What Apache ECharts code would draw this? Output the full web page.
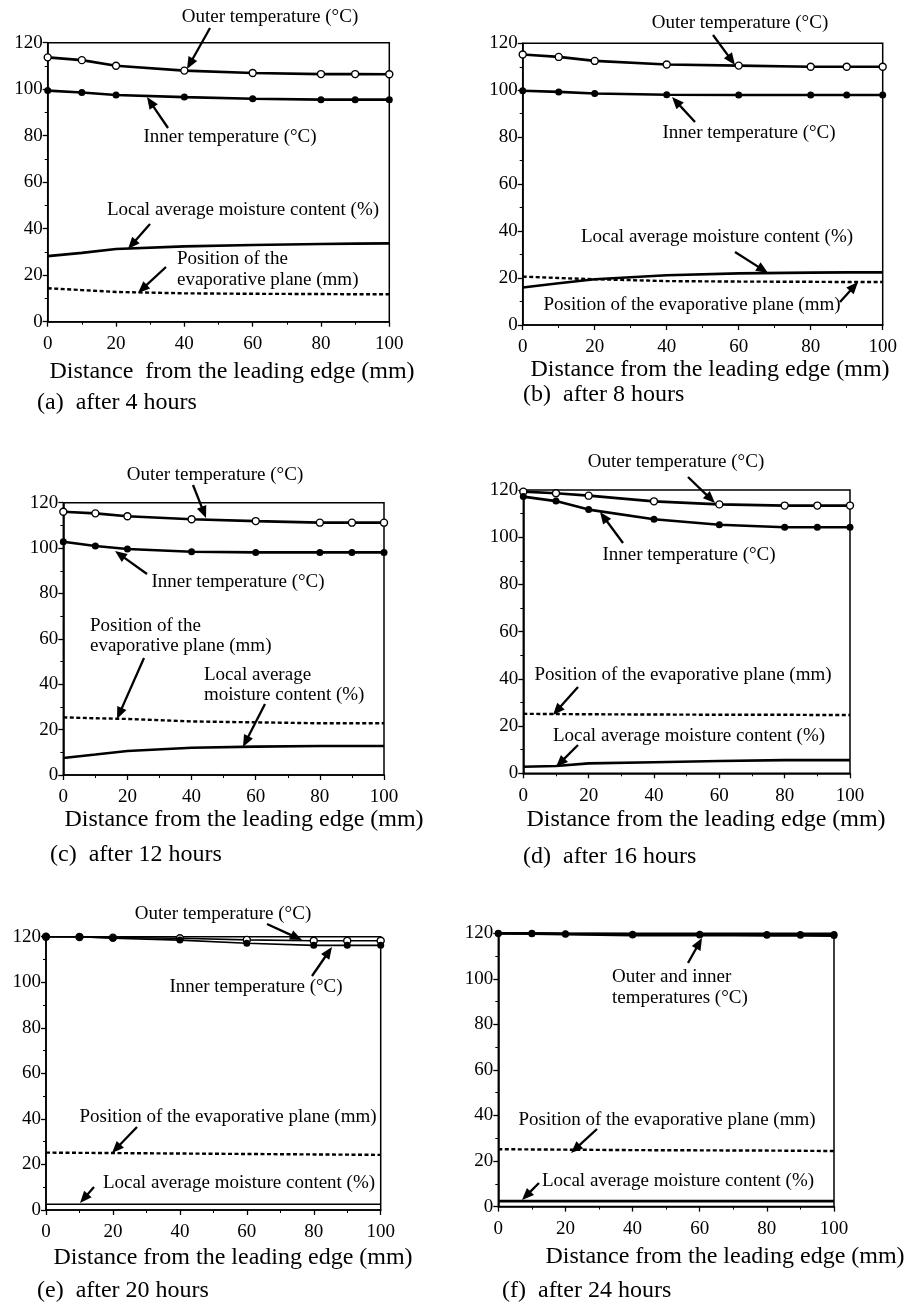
<!DOCTYPE html>
<html>
<head>
<meta charset="utf-8">
<script src="https://cdn.jsdelivr.net/npm/echarts@6/dist/echarts.min.js"></script>
<style>
html,body{margin:0;padding:0;background:#fff;}
#chart{width:909px;height:1304px;}
</style>
</head>
<body>
<div id="chart"></div>
<script>
// ---- data ----
const distances = [0, 10, 20, 40, 60, 80, 90, 100];   // mm from leading edge
const xTickLabels = [0, 20, 40, 60, 80, 100];
const yTickLabels = [0, 20, 40, 60, 80, 100, 120];

// (a) after 4 hours
const outerA = [113.7, 112.5, 110.1, 108.0, 107.0, 106.5, 106.5, 106.4];
const innerA = [99.4, 98.6, 97.5, 96.6, 95.9, 95.5, 95.5, 95.5];
const moistA = [28.2, 29.6, 31.3, 32.4, 33.0, 33.4, 33.6, 33.7];
const evapA  = [14.4, 13.6, 12.8, 12.2, 12.0, 11.9, 11.8, 11.8];
// (b) after 8 hours
const outerB = [115.2, 114.2, 112.5, 111.0, 110.5, 110.0, 110.0, 110.0];
const innerB = [99.8, 99.3, 98.6, 98.1, 98.0, 98.0, 98.0, 98.0];
const moistB = [16.0, 17.8, 19.5, 21.2, 22.0, 22.3, 22.4, 22.4];
const evapB  = [20.6, 20.0, 19.5, 18.7, 18.5, 18.4, 18.3, 18.3];
// (c) after 12 hours
const outerC = [116.0, 115.3, 114.0, 112.7, 111.9, 111.2, 111.2, 111.2];
const innerC = [102.8, 100.9, 99.6, 98.4, 98.1, 98.1, 98.1, 98.1];
const moistC = [7.5, 9.0, 10.6, 12.0, 12.5, 12.8, 12.8, 12.8];
const evapC  = [25.4, 25.0, 24.7, 23.6, 23.2, 22.8, 22.8, 22.8];
// (d) after 16 hours
const outerD = [119.3, 118.6, 117.6, 115.2, 113.9, 113.4, 113.4, 113.4];
const innerD = [117.2, 115.3, 111.7, 107.6, 105.3, 104.2, 104.2, 104.2];
const moistD = [2.8, 3.1, 4.2, 4.7, 5.2, 5.6, 5.6, 5.6];
const evapD  = [25.2, 25.1, 25.0, 24.9, 24.8, 24.8, 24.7, 24.7];
// (e) after 20 hours
const outerE = [120.0, 119.9, 119.6, 119.3, 118.6, 118.2, 118.2, 118.2];
const innerE = [120.0, 120.0, 119.3, 118.5, 117.1, 116.2, 116.2, 116.2];
const moistE = [2.5, 2.5, 2.5, 2.5, 2.5, 2.5, 2.5, 2.5];
const evapE  = [25.2, 25.1, 25.0, 24.8, 24.6, 24.4, 24.3, 24.2];
// (f) after 24 hours
const outerF = [120.0, 120.0, 119.8, 119.6, 119.6, 119.5, 119.5, 119.5];
const innerF = [119.9, 119.8, 119.6, 119.2, 119.3, 119.1, 119.1, 119.0];
const moistF = [2.4, 2.4, 2.4, 2.4, 2.4, 2.4, 2.4, 2.4];
const evapF  = [25.2, 25.1, 25.0, 24.8, 24.7, 24.6, 24.5, 24.4];

const captions = ['(a)  after 4 hours', '(b)  after 8 hours', '(c)  after 12 hours',
                  '(d)  after 16 hours', '(e)  after 20 hours', '(f)  after 24 hours'];
const xTitles = ['Distance  from the leading edge (mm)', 'Distance from the leading edge (mm)',
                 'Distance from the leading edge (mm)', 'Distance from the leading edge (mm)',
                 'Distance from the leading edge (mm)', 'Distance from the leading edge (mm)'];

// ---- layout ----
const FONT = '"Liberation Serif", "Times New Roman", serif';
const panels = [
  {grid:{left:47.7, top:42.7, width:341.6, height:279}, data:[outerA, innerA, moistA, evapA], thin:false,
   title:[232, 372], cap:[37, 403],
   texts:[['Outer temperature (°C)',270,17,'center'],['Inner temperature (°C)',230,137,'center'],
          ['Local average moisture content (%)',243,210,'center'],['Position of the',177,259,'left'],
          ['evaporative plane (mm)',177,280,'left']],
   arrows:[[210,28,187,69],[168,128,147,97],[150,224,128,249],[166,267,138,293]]},
  {grid:{left:522.7, top:43.3, width:360, height:281.7}, data:[outerB, innerB, moistB, evapB], thin:false,
   title:[710, 370], cap:[523, 395],
   texts:[['Outer temperature (°C)',740,23,'center'],['Inner temperature (°C)',749,133,'center'],
          ['Local average moisture content (%)',717,237,'center'],
          ['Position of the evaporative plane (mm)',692,305,'center']],
   arrows:[[713,35,735,65],[695,122,672,97],[735,252,768,273],[840,302,858,282]]},
  {grid:{left:63.3, top:502.7, width:320.7, height:272.3}, data:[outerC, innerC, moistC, evapC], thin:false,
   title:[244, 820], cap:[50, 855],
   texts:[['Outer temperature (°C)',215,475,'center'],['Inner temperature (°C)',238,582,'center'],
          ['Position of the',90,626,'left'],['evaporative plane (mm)',90,646,'left'],
          ['Local average',204,675,'left'],['moisture content (%)',204,695,'left']],
   arrows:[[193,485,206,518],[147,574,115,551],[144,658,117,719],[265,704,243,747]]},
  {grid:{left:523.3, top:490, width:326.7, height:283.3}, data:[outerD, innerD, moistD, evapD], thin:false,
   title:[706, 820], cap:[523, 857],
   texts:[['Outer temperature (°C)',676,462,'center'],['Inner temperature (°C)',689,555,'center'],
          ['Position of the evaporative plane (mm)',683,675,'center'],
          ['Local average moisture content (%)',689,736,'center']],
   arrows:[[688,477,715,503],[623,543,600,512],[578,687,553,715],[578,745,556,767]]},
  {grid:{left:46, top:936.7, width:334.7, height:273.3}, data:[outerE, innerE, moistE, evapE], thin:true,
   title:[233, 1258], cap:[37, 1291],
   texts:[['Outer temperature (°C)',223,914,'center'],['Inner temperature (°C)',256,987,'center'],
          ['Position of the evaporative plane (mm)',228,1117,'center'],
          ['Local average moisture content (%)',239,1183,'center']],
   arrows:[[267,924,302,940],[312,976,332,947],[137,1127,112,1153],[94,1187,80,1203]]},
  {grid:{left:498.3, top:933.3, width:335.7, height:273.3}, data:[outerF, innerF, moistF, evapF], thin:false,
   title:[725, 1257], cap:[502, 1291], filledOuter:true,
   texts:[['Outer and inner',612,977,'left'],['temperatures (°C)',612,998,'left'],
          ['Position of the evaporative plane (mm)',667,1120,'center'],
          ['Local average moisture content (%)',678,1181,'center']],
   arrows:[[688,963,702,938],[597,1129,571,1153],[539,1183,522,1200]]}
];

const grids = [], xAxes = [], yAxes = [], series = [], graphics = [];

function arrow(x1, y1, x2, y2) {
  const dx = x2 - x1, dy = y2 - y1, L = Math.hypot(dx, dy);
  const ux = dx / L, uy = dy / L, head = 12, hw = 5;
  const bx = x2 - ux * head, by = y2 - uy * head;
  return [
    {type:'line', shape:{x1:x1, y1:y1, x2:bx + ux * 2, y2:by + uy * 2}, style:{stroke:'#000', lineWidth:2.3}, silent:true},
    {type:'polygon', shape:{points:[[x2, y2], [bx - uy * hw, by + ux * hw], [bx + uy * hw, by - ux * hw]]},
     style:{fill:'#000'}, silent:true}
  ];
}

panels.forEach((p, i) => {
  grids.push(Object.assign({show:true, borderColor:'#000', borderWidth:1.5, backgroundColor:'transparent'}, p.grid));
  const common = {
    type:'value', gridIndex:i,
    axisLine:{show:true, onZero:false, lineStyle:{color:'#000', width:1.6}},
    axisTick:{show:true, length:5, lineStyle:{color:'#000', width:1.3}},
    minorTick:{show:true, splitNumber:2, length:3, lineStyle:{color:'#000', width:1}},
    splitLine:{show:false}
  };
  xAxes.push(Object.assign({}, common, {
    min:xTickLabels[0], max:xTickLabels[xTickLabels.length - 1], interval:xTickLabels[1] - xTickLabels[0],
    axisLabel:{color:'#000', fontFamily:FONT, fontSize:19, margin:13}
  }));
  yAxes.push(Object.assign({}, common, {
    min:yTickLabels[0], max:yTickLabels[yTickLabels.length - 1], interval:yTickLabels[1] - yTickLabels[0],
    axisLabel:{color:'#000', fontFamily:FONT, fontSize:19, margin:5}
  }));
  const lw = p.thin ? 1.6 : 2.6;
  const pts = arr => distances.map((d, j) => [d, arr[j]]);
  const base = {type:'line', xAxisIndex:i, yAxisIndex:i, clip:false, animation:false, silent:true};
  series.push(Object.assign({}, base, {
    name:'Outer temperature', data:pts(p.data[0]), symbol:'circle', symbolSize:7,
    itemStyle: p.filledOuter ? {color:'#000'} : {color:'#fff', borderColor:'#000', borderWidth:1.4},
    lineStyle:{color:'#000', width:lw}, z:3
  }));
  series.push(Object.assign({}, base, {
    name:'Inner temperature', data:pts(p.data[1]), symbol:'circle', symbolSize:7,
    itemStyle:{color:'#000'}, lineStyle:{color:'#000', width:lw}, z:4
  }));
  series.push(Object.assign({}, base, {
    name:'Local average moisture content', data:pts(p.data[2]), showSymbol:false, symbol:'none',
    lineStyle:{color:'#000', width:lw}
  }));
  series.push(Object.assign({}, base, {
    name:'Position of the evaporative plane', data:pts(p.data[3]), showSymbol:false, symbol:'none',
    lineStyle:{color:'#000', width:2.4, type:[4, 2.5]}
  }));
  // annotations
  p.texts.forEach(t => graphics.push({type:'text', x:t[1], y:t[2], silent:true,
    style:{text:t[0], font:'19px ' + FONT, fill:'#000', align:t[3], verticalAlign:'middle'}}));
  p.arrows.forEach(a => arrow(a[0], a[1], a[2], a[3]).forEach(g => graphics.push(g)));
  graphics.push({type:'text', x:p.title[0], y:p.title[1], silent:true,
    style:{text:xTitles[i], font:'24px ' + FONT, fill:'#000', align:'center', verticalAlign:'middle'}});
  graphics.push({type:'text', x:p.cap[0], y:p.cap[1], silent:true,
    style:{text:captions[i], font:'24px ' + FONT, fill:'#000', align:'left', verticalAlign:'middle'}});
});

const chart = echarts.init(document.getElementById('chart'), null, {renderer:'canvas'});
chart.setOption({
  backgroundColor:'#fff',
  animation:false,
  grid:grids, xAxis:xAxes, yAxis:yAxes, series:series,
  graphic:{elements:graphics}
});
</script>
</body>
</html>
